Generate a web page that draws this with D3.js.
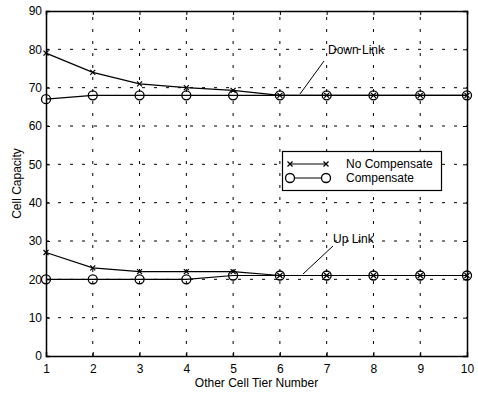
<!DOCTYPE html>
<html><head><meta charset="utf-8">
<script src="https://cdn.jsdelivr.net/npm/d3@7"></script>
<style>body{margin:0;background:#fff}svg{display:block}text{font-family:"Liberation Sans",Arial,sans-serif;fill:#000}</style>
</head><body><svg id="c" width="478" height="393"></svg>
<script>
const tiers = [1,2,3,4,5,6,7,8,9,10];
const downNoComp = [79,74,71,70,69.3,68,68,68,68,68];
const downComp   = [67,68,68,68,68,68,68,68,68,68];
const upNoComp   = [27,23,22,22,22,21,21,21,21,21];
const upComp     = [20,20,20,20,21,21,21,21,21,21];
const xTicks = [1,2,3,4,5,6,7,8,9,10];
const yTicks = [0,10,20,30,40,50,60,70,80,90];
const legendLabels = ["No Compensate","Compensate"];

const svg = d3.select("#c");
const L=46, R=467, T=11, B=356;
const x = d3.scaleLinear().domain([1,10]).range([L,R]);
const y = d3.scaleLinear().domain([0,90]).range([B,T]);

// grid
const g = svg.append("g");
g.selectAll(".gx").data(xTicks.slice(1,-1)).enter().append("line")
 .attr("x1",d=>x(d)).attr("x2",d=>x(d)).attr("y1",B).attr("y2",T)
 .attr("stroke","#000").attr("stroke-width",1).attr("stroke-dasharray","3,9");
g.selectAll(".gy").data(yTicks.slice(1,-1)).enter().append("line")
 .attr("y1",d=>y(d)).attr("y2",d=>y(d)).attr("x1",L).attr("x2",R)
 .attr("stroke","#000").attr("stroke-width",1).attr("stroke-dasharray","3,9");

// axes
const ax = svg.append("g").attr("transform",`translate(0,${B})`)
 .call(d3.axisBottom(x).tickValues(xTicks).tickSize(-4).tickPadding(8).tickFormat(d3.format("d")));
const ay = svg.append("g").attr("transform",`translate(${L},0)`)
 .call(d3.axisLeft(y).tickValues(yTicks).tickSize(-4).tickPadding(4));
const at = svg.append("g").attr("transform",`translate(0,${T})`)
 .call(d3.axisTop(x).tickValues(xTicks).tickSize(-4).tickFormat(""));
const ar = svg.append("g").attr("transform",`translate(${R},0)`)
 .call(d3.axisRight(y).tickValues(yTicks).tickSize(-4).tickFormat(""));
[ax,ay,at,ar].forEach(a=>{
  a.selectAll("path").attr("stroke","#000").attr("stroke-width",1.5);
  a.selectAll("line").attr("stroke","#000");
  a.selectAll("text").attr("font-size",12).attr("font-family","Liberation Sans, Arial, sans-serif");
});

const line = d3.line().x((d,i)=>x(tiers[i])).y(d=>y(d));
function crossSeries(vals){
  svg.append("path").datum(vals).attr("d",line).attr("fill","none").attr("stroke","#000").attr("stroke-width",1.2);
  svg.selectAll(null).data(vals).enter().append("path")
   .attr("d",(d,i)=>{const cx=x(tiers[i]),cy=y(d),s=2.5;return `M${cx-s},${cy-s}L${cx+s},${cy+s}M${cx-s},${cy+s}L${cx+s},${cy-s}`;})
   .attr("stroke","#000").attr("stroke-width",1.2);
}
function circSeries(vals){
  svg.append("path").datum(vals).attr("d",line).attr("fill","none").attr("stroke","#000").attr("stroke-width",1.2);
  svg.selectAll(null).data(vals).enter().append("circle")
   .attr("cx",(d,i)=>x(tiers[i])).attr("cy",d=>y(d)).attr("r",4.5)
   .attr("fill","none").attr("stroke","#000").attr("stroke-width",1.3);
}
crossSeries(downNoComp); circSeries(downComp);
crossSeries(upNoComp); circSeries(upComp);

// annotations
svg.append("line").attr("x1",300).attr("y1",94).attr("x2",324).attr("y2",61).attr("stroke","#000").attr("stroke-width",1);
svg.append("text").attr("x",328).attr("y",54).attr("font-size",12).text("Down Link");
svg.append("line").attr("x1",303).attr("y1",274).attr("x2",333).attr("y2",246).attr("stroke","#000").attr("stroke-width",1);
svg.append("text").attr("x",333).attr("y",243).attr("font-size",12).text("Up Link");

// legend
const lg = svg.append("g");
lg.append("rect").attr("x",282.5).attr("y",151.5).attr("width",159).attr("height",39).attr("fill","#fff").attr("stroke","#000").attr("stroke-width",1.2);
legendLabels.forEach((t,i)=>{
  const yy = 164 + i*14;
  lg.append("line").attr("x1",290).attr("x2",326).attr("y1",yy).attr("y2",yy).attr("stroke","#000").attr("stroke-width",1.2);
  if(i===0){
    [290,326].forEach(cx=>lg.append("path").attr("d",`M${cx-2.5},${yy-2.5}L${cx+2.5},${yy+2.5}M${cx-2.5},${yy+2.5}L${cx+2.5},${yy-2.5}`).attr("stroke","#000").attr("stroke-width",1.2));
  } else {
    [290,326].forEach(cx=>lg.append("circle").attr("cx",cx).attr("cy",yy).attr("r",4.5).attr("fill","#fff").attr("stroke","#000").attr("stroke-width",1.3));
  }
  lg.append("text").attr("x",346).attr("y",yy+4).attr("font-size",12).text(t);
});

// axis titles
svg.append("text").attr("x",(L+R)/2).attr("y",387).attr("text-anchor","middle").attr("font-size",12).text("Other Cell Tier Number");
svg.append("text").attr("transform",`translate(21,${(T+B)/2}) rotate(-90)`).attr("text-anchor","middle").attr("font-size",12).text("Cell Capacity");
</script></body></html>
